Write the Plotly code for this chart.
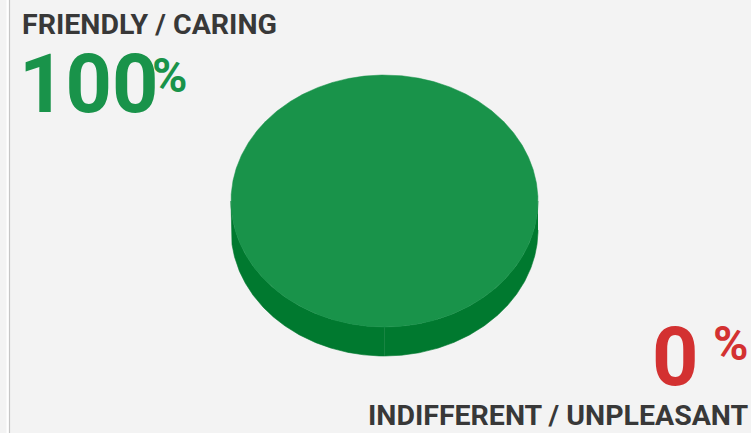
import numpy as np
import plotly.graph_objects as go

# ---- data ----
labels = ["FRIENDLY / CARING", "INDIFFERENT / UNPLEASANT"]
values = [100, 0]
colors_top = ["#19934a", "#d33131"]
colors_side = ["#00792f", "#a82020"]
text_colors = ["#19934a", "#d33131"]

W, H = 751, 433
cx, cy, rx, ry, depth = 384.5, 201.0, 153.5, 126.0, 29.0

fig = go.Figure()

total = sum(values)
ang0 = np.pi / 2  # start at bottom-center (screen y down)
slices = []
a = ang0
for v in values:
    span = 2 * np.pi * v / total
    slices.append((a, a + span))
    a += span

def pt(t):
    return cx + rx * np.cos(t), cy + ry * np.sin(t)

# front visible intervals (right half and left half of the front rim)
front = []
for k in range(-1, 3):
    base = 2 * np.pi * k
    front.append((base, base + np.pi / 2))
    front.append((base + np.pi / 2, base + np.pi))

# side faces
for (a0, a1), cs, v in zip(slices, colors_side, values):
    if v <= 0:
        continue
    for f0, f1 in front:
        s0, s1 = max(a0, f0), min(a1, f1)
        if s1 - s0 < 1e-6:
            continue
        p = np.linspace(s0, s1, 400)
        xs_top, ys_top = pt(p)
        xs = np.concatenate([xs_top, xs_top[::-1]])
        ys = np.concatenate([ys_top, ys_top[::-1] + depth])
        fig.add_trace(go.Scatter(x=xs, y=ys, fill="toself", fillcolor=cs,
                                 mode="lines", line=dict(width=0.6, color=cs),
                                 hoverinfo="skip", showlegend=False))

# top faces
for (a0, a1), ct, v in zip(slices, colors_top, values):
    if v <= 0:
        continue
    t = np.linspace(a0, a1, 1440)
    xs, ys = pt(t)
    if v < total:
        xs = np.concatenate([[cx], xs, [cx]])
        ys = np.concatenate([[cy], ys, [cy]])
    fig.add_trace(go.Scatter(x=xs, y=ys, fill="toself", fillcolor=ct,
                             mode="lines", line=dict(width=0.5, color=ct),
                             hoverinfo="skip", showlegend=False))

font_main = "Roboto"
dark = "#383838"
ann = []
ann.append(dict(x=20, y=24, xref="x", yref="y", text=f"<b>{labels[0]}</b>",
                showarrow=False, xanchor="left", yanchor="middle",
                font=dict(family=font_main, size=28.5, color=dark)))
ann.append(dict(x=17, y=84, xref="x", yref="y", text=f"<b>{values[0]}</b>",
                showarrow=False, xanchor="left", yanchor="middle",
                font=dict(family=font_main, size=81, color=text_colors[0])))
ann.append(dict(x=150, y=75, xref="x", yref="y", text="<b>%</b>",
                showarrow=False, xanchor="left", yanchor="middle",
                font=dict(family=font_main, size=48, color=text_colors[0])))
ann.append(dict(x=700, y=357, xref="x", yref="y", text=f"<b>{values[1]}</b>",
                showarrow=False, xanchor="right", yanchor="middle",
                font=dict(family=font_main, size=81, color=text_colors[1])))
ann.append(dict(x=750, y=343, xref="x", yref="y", text="<b>%</b>",
                showarrow=False, xanchor="right", yanchor="middle",
                font=dict(family=font_main, size=48, color=text_colors[1])))
ann.append(dict(x=751, y=415, xref="x", yref="y", text=f"<b>{labels[1]}</b>",
                showarrow=False, xanchor="right", yanchor="middle",
                font=dict(family=font_main, size=28.5, color=dark)))

shapes = [
    dict(type="rect", xref="x", yref="y", x0=6.5, x1=9, y0=0, y1=H,
         fillcolor="#ffffff", line=dict(width=0), layer="below"),
    dict(type="line", xref="x", yref="y", x0=9.5, x1=9.5, y0=0, y1=H,
         line=dict(color="#c6c6c6", width=1.2), layer="below"),
]

fig.update_layout(
    width=W, height=H, margin=dict(l=0, r=0, t=0, b=0),
    paper_bgcolor="#f3f3f3", plot_bgcolor="#f3f3f3",
    xaxis=dict(range=[0, W], visible=False, fixedrange=True),
    yaxis=dict(range=[H, 0], visible=False, fixedrange=True),
    annotations=ann, shapes=shapes, showlegend=False,
)
fig.write_html("out.html")
